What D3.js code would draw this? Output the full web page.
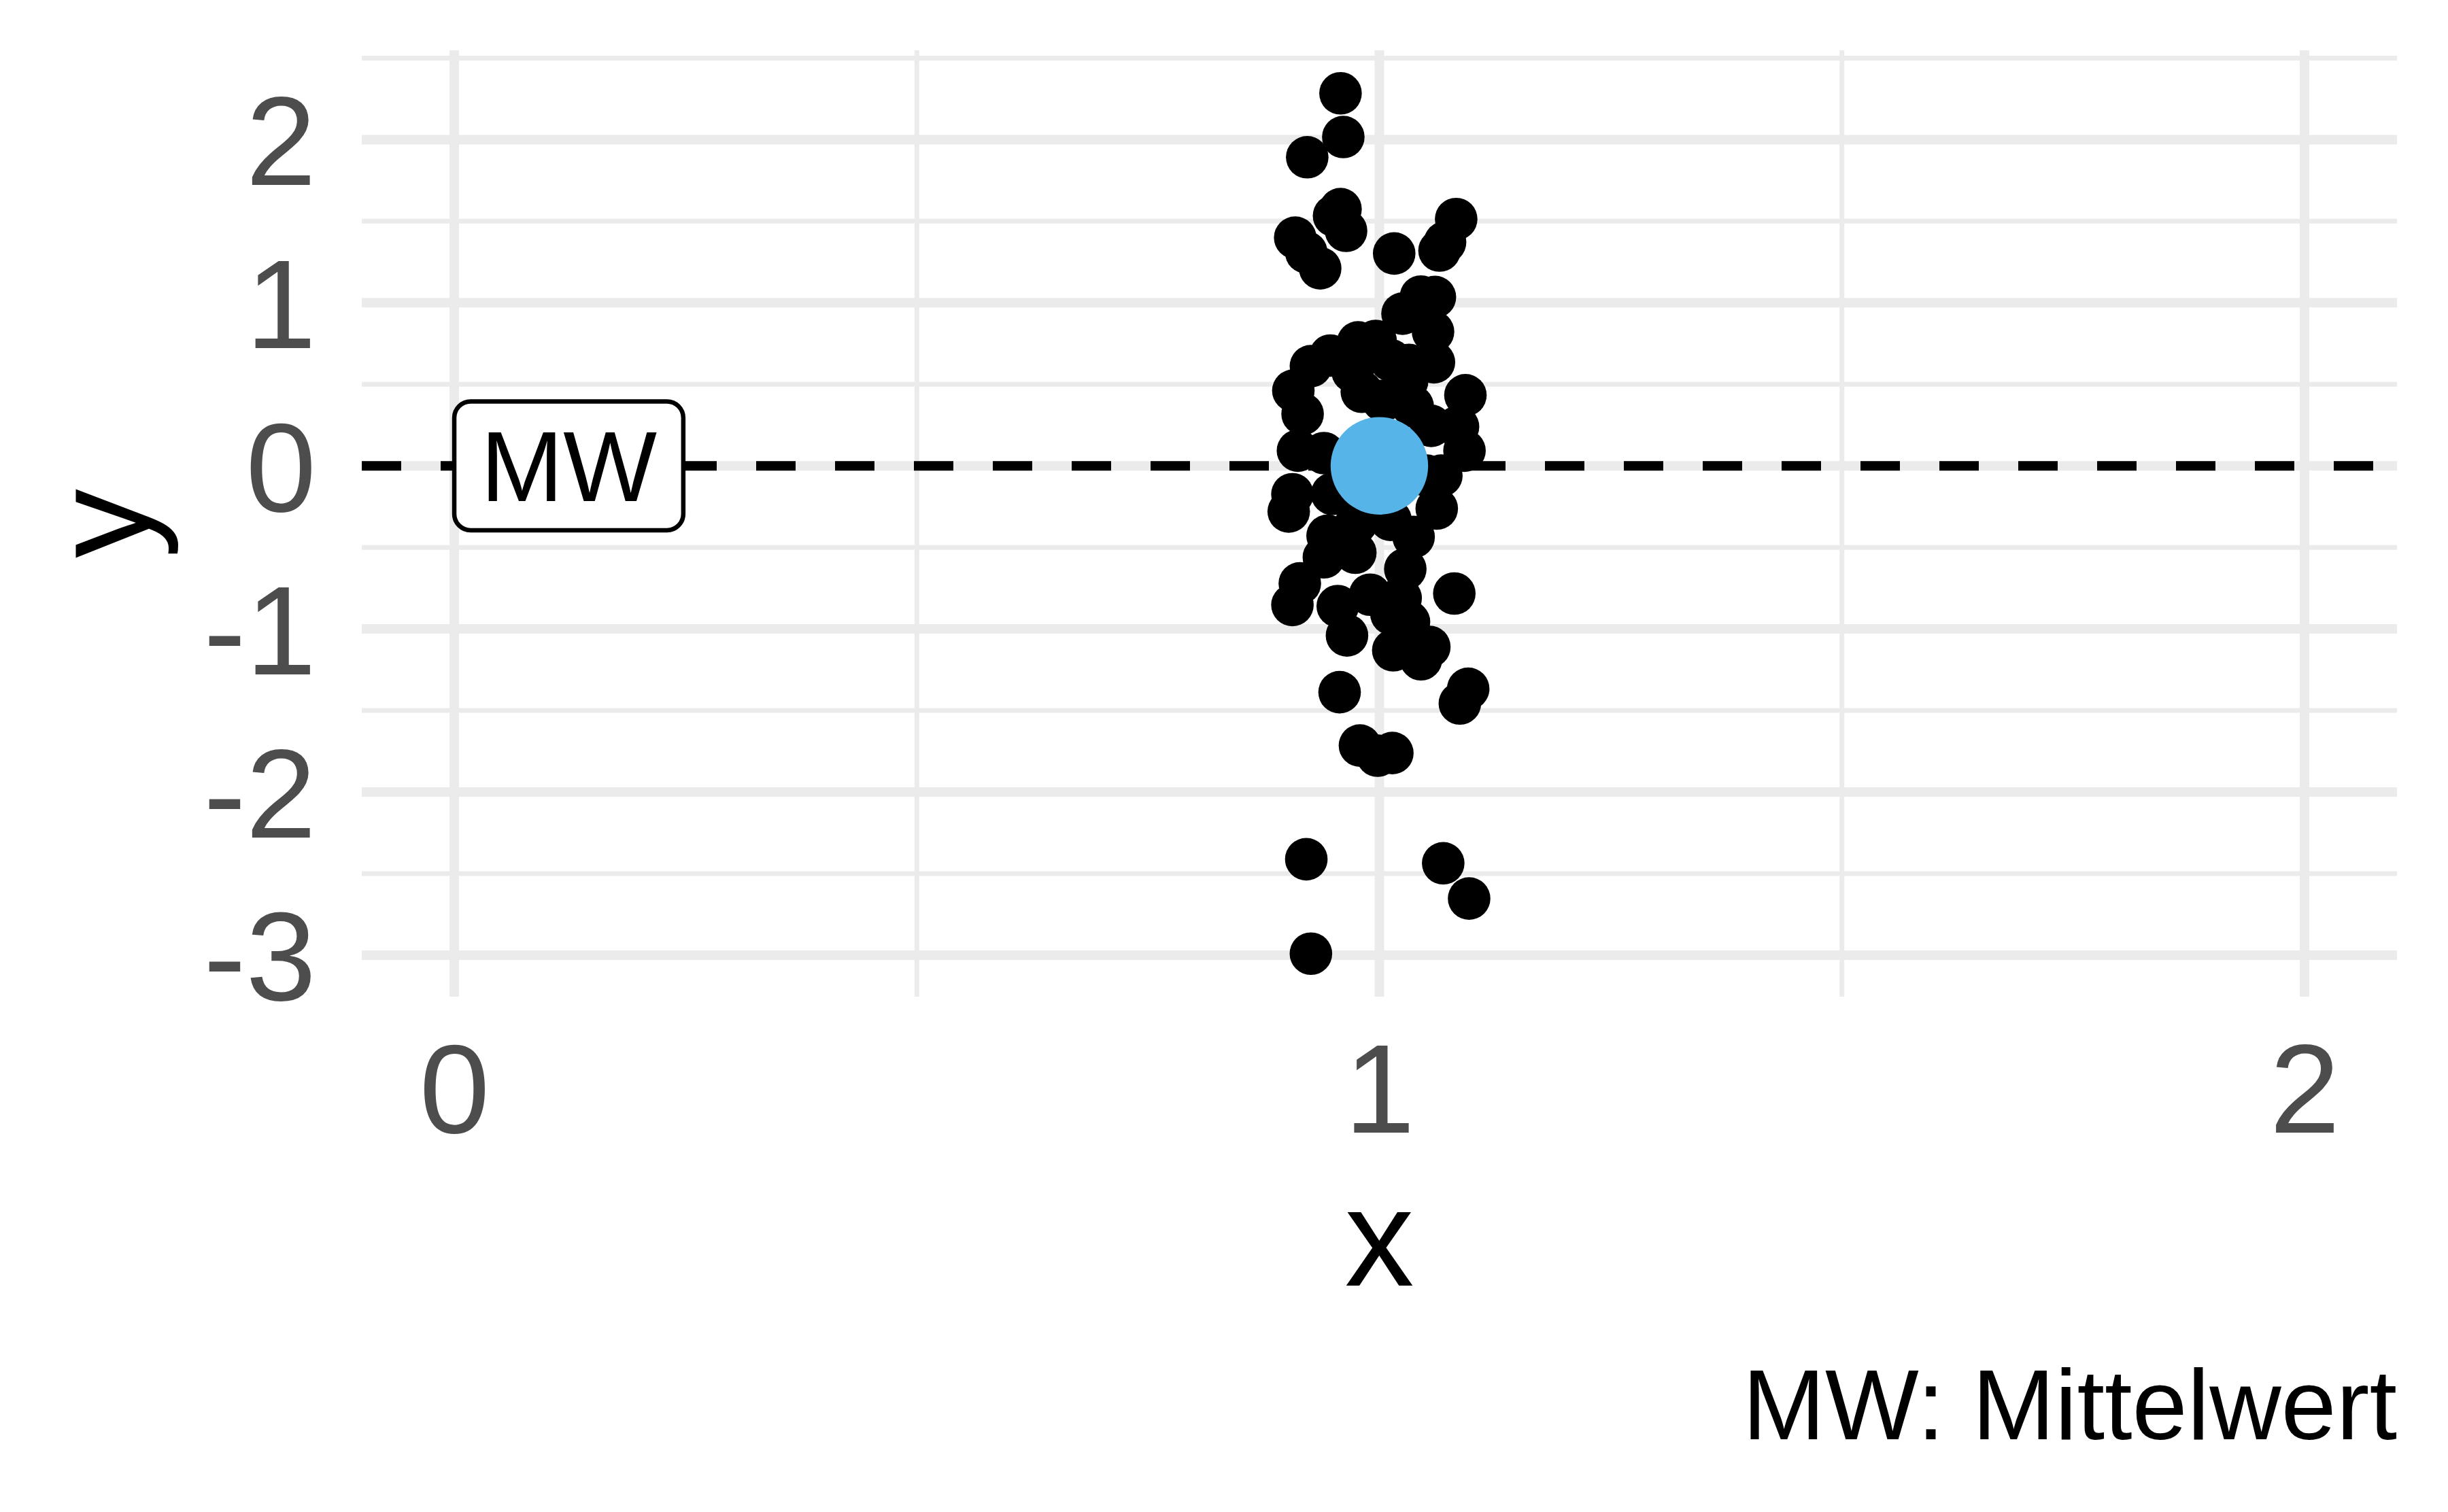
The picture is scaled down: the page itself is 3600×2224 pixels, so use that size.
<!DOCTYPE html>
<html><head><meta charset="utf-8">
<script src="https://cdn.jsdelivr.net/npm/d3@7"></script>
<style>html,body{margin:0;padding:0;background:#fff}</style>
</head><body>
<svg id="chart" width="3600" height="2224"></svg>
<script>
// ---- data ----
const pointX = [
  0.958,0.961,0.922,0.958,0.951,0.964,0.909,0.921,0.936,1.016,
  1.083,1.071,1.065,1.045,1.060,1.025,1.058,1.059,0.947,0.926,
  0.977,0.996,0.907,0.917,1.093,0.981,1.036,1.085,1.012,1.032,
  0.971,1.092,0.912,0.940,1.056,1.051,0.906,0.902,0.949,1.062,
  1.037,0.944,0.940,0.974,1.028,0.914,0.906,0.990,0.955,1.023,
  1.081,1.032,0.965,1.015,1.054,1.045,1.013,0.957,1.096,1.087,
  0.979,0.998,1.014,0.921,1.069,1.097,0.926,0.975,1.012,1.004,
  1.067,1.030
];
const pointY = [
  2.284,2.016,1.892,1.574,1.533,1.441,1.399,1.309,1.211,1.302,
  1.513,1.371,1.320,1.038,1.035,0.933,0.822,0.635,0.676,0.611,
  0.757,0.766,0.461,0.318,0.433,0.454,0.365,0.240,0.648,0.619,
  0.579,0.093,0.093,0.078,0.245,-0.060,-0.174,-0.280,-0.172,-0.262,
  -0.436,-0.429,-0.561,-0.533,-0.633,-0.721,-0.853,-0.790,-0.860,-0.811,
  -0.783,-0.957,-1.040,-1.131,-1.110,-1.186,-0.908,-1.388,-1.367,-1.457,
  -1.715,-1.777,-1.761,-2.412,-2.437,-2.653,-2.991,-0.352,-0.331,0.399,
  -0.060,0.520
];
const meanX = [1];
const meanY = [0];
const xLimits = [0, 2];
const xMajorTicks = [0, 1, 2];
const xMinorTicks = [0.5, 1.5];
const yMajorTicks = [-3, -2, -1, 0, 1, 2];
const yMinorTicks = [-2.5, -1.5, -0.5, 0.5, 1.5, 2.5];
const refLineY = [0];
const labelX = [0];
const labelY = [0];
const labelText = ["MW"];
const xTitle = "x";
const yTitle = "y";
const captionText = "MW: Mittelwert";

// ---- layout ----
const FONT = "'Liberation Sans', Arial, Helvetica, sans-serif";
const panel = {left: 532, right: 3525, top: 74, bottom: 1466};
const svg = d3.select("#chart");
svg.append("rect").attr("width", 3600).attr("height", 2224).attr("fill", "#fff");

const xr = xLimits[1] - xLimits[0];
const x = d3.scaleLinear()
  .domain([xLimits[0] - 0.05 * xr, xLimits[1] + 0.05 * xr])
  .range([panel.left, panel.right]);
const yExt = d3.extent(pointY.concat(meanY));
const yr = yExt[1] - yExt[0];
const y = d3.scaleLinear()
  .domain([yExt[0] - 0.05 * yr, yExt[1] + 0.05 * yr])
  .range([panel.bottom, panel.top]);

const grid = svg.append("g");
const yMinorIn = yMinorTicks.filter(v => v >= y.domain()[0] && v <= y.domain()[1]);
grid.selectAll(".ymin").data(yMinorIn).join("line")
  .attr("x1", panel.left).attr("x2", panel.right)
  .attr("y1", d => y(d)).attr("y2", d => y(d))
  .attr("stroke", "#EBEBEB").attr("stroke-width", 7);
grid.selectAll(".xmin").data(xMinorTicks).join("line")
  .attr("y1", panel.top).attr("y2", panel.bottom)
  .attr("x1", d => x(d)).attr("x2", d => x(d))
  .attr("stroke", "#EBEBEB").attr("stroke-width", 7);
grid.selectAll(".ymaj").data(yMajorTicks).join("line")
  .attr("x1", panel.left).attr("x2", panel.right)
  .attr("y1", d => y(d)).attr("y2", d => y(d))
  .attr("stroke", "#EBEBEB").attr("stroke-width", 14);
grid.selectAll(".xmaj").data(xMajorTicks).join("line")
  .attr("y1", panel.top).attr("y2", panel.bottom)
  .attr("x1", d => x(d)).attr("x2", d => x(d))
  .attr("stroke", "#EBEBEB").attr("stroke-width", 14);

// reference line
svg.append("g").selectAll("line").data(refLineY).join("line")
  .attr("x1", panel.left).attr("x2", panel.right)
  .attr("y1", d => y(d)).attr("y2", d => y(d))
  .attr("stroke", "#000").attr("stroke-width", 14)
  .attr("stroke-dasharray", "58,58");

// points
const pts = pointX.map((v, i) => ({x: v, y: pointY[i]}));
svg.append("g").selectAll("circle").data(pts).join("circle")
  .attr("cx", d => x(d.x)).attr("cy", d => y(d.y)).attr("r", 31.3)
  .attr("fill", "#000");

// mean point
svg.append("g").selectAll("circle").data(meanX.map((v, i) => ({x: v, y: meanY[i]}))).join("circle")
  .attr("cx", d => x(d.x)).attr("cy", d => y(d.y)).attr("r", 71.7)
  .attr("fill", "#56B4E9");

// label
const lblFs = 146;
labelText.forEach((t, i) => {
  const g = svg.append("g");
  const rect = g.append("rect");
  const txt = g.append("text").text(t)
    .attr("font-family", FONT).attr("font-size", lblFs).attr("fill", "#000")
    .attr("text-anchor", "middle").attr("dy", "0.3575em");
  const w = txt.node().getComputedTextLength();
  const pad = 0.265 * lblFs;
  const bw = w + 2 * pad, bh = 1.298 * lblFs;
  const x0 = x(labelX[i]);
  rect.attr("x", x0).attr("y", y(labelY[i]) - bh / 2)
    .attr("width", bw).attr("height", bh).attr("rx", 24).attr("ry", 24)
    .attr("fill", "#fff").attr("stroke", "#000").attr("stroke-width", 6.5);
  txt.attr("x", x0 + bw / 2).attr("y", y(labelY[i]));
});

// axes (labels only)
const tickFs = 186;
const fmt = d => String(d);
const xAxis = svg.append("g").attr("transform", `translate(0,${panel.bottom})`)
  .call(d3.axisBottom(x).tickValues(xMajorTicks).tickSize(0).tickPadding(68).tickFormat(fmt));
xAxis.select(".domain").remove();
xAxis.attr("font-size", tickFs).attr("font-family", FONT);
xAxis.selectAll("text").attr("fill", "#4D4D4D");

const yAxis = svg.append("g").attr("transform", `translate(${panel.left},0)`)
  .call(d3.axisLeft(y).tickValues(yMajorTicks).tickSize(0).tickPadding(67).tickFormat(fmt));
yAxis.select(".domain").remove();
yAxis.attr("font-size", tickFs).attr("font-family", FONT);
yAxis.selectAll("text").attr("fill", "#4D4D4D").attr("dy", "0.355em");

// axis titles
const titleFs = 204;
svg.append("text").text(xTitle)
  .attr("x", (panel.left + panel.right) / 2).attr("y", 1891)
  .attr("text-anchor", "middle").attr("font-family", FONT).attr("font-size", titleFs).attr("fill", "#000");
svg.append("text").text(yTitle)
  .attr("transform", `translate(220,${(panel.top + panel.bottom) / 2}) rotate(-90)`)
  .attr("text-anchor", "middle").attr("font-family", FONT).attr("font-size", titleFs).attr("fill", "#000");

// caption
svg.append("text").text(captionText)
  .attr("x", panel.right).attr("y", 2117)
  .attr("text-anchor", "end").attr("font-family", FONT).attr("font-size", 146).attr("fill", "#000");
</script>
</body></html>
